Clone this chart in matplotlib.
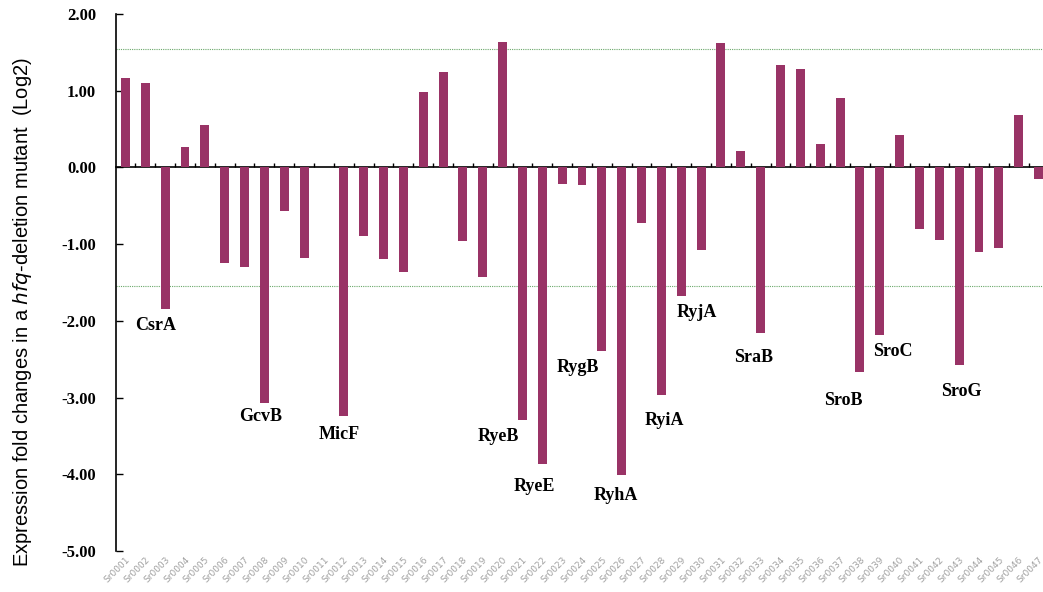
import matplotlib
matplotlib.use('Agg')
import matplotlib.pyplot as plt

# sRNA probes on the array, Sr0001 .. Sr0047
probes = ['Sr%04d' % i for i in range(1, 48)]

# log2 fold change in the hfq-deletion mutant (probe Sr0011 gave no value)
log2_fc = [1.16, 1.10, -1.85, 0.26, 0.55, -1.24, -1.30, -3.07, -0.57, -1.18,
           0.00, -3.24, -0.89, -1.19, -1.36, 0.98, 1.25, -0.96, -1.43, 1.63,
           -3.29, -3.86, -0.21, -0.23, -2.39, -4.01, -0.73, -2.96, -1.67, -1.07,
           1.62, 0.22, -2.16, 1.33, 1.28, 0.31, 0.90, -2.67, -2.19, 0.42,
           -0.80, -0.94, -2.58, -1.10, -1.05, 0.68, -0.15]

# known sRNAs among the probes (0-based probe index -> name)
srna_names = {2: 'CsrA', 7: 'GcvB', 11: 'MicF', 20: 'RyeB', 21: 'RyeE',
              24: 'RygB', 25: 'RyhA', 27: 'RyiA', 28: 'RyjA', 32: 'SraB',
              37: 'SroB', 38: 'SroC', 42: 'SroG'}

# cut-off for a 3-fold change
cutoff = 1.55

# where each name sits relative to the end of its bar (x, y in data units)
name_offsets = {2: (-0.49, -0.21), 7: (-0.17, -0.18), 11: (-0.25, -0.24),
                20: (-1.21, -0.22), 21: (-0.40, -0.30), 24: (-1.23, -0.22),
                25: (-0.31, -0.27), 27: (0.15, -0.34), 28: (0.77, -0.22),
                32: (-0.36, -0.32), 37: (-0.83, -0.37), 38: (0.64, -0.21),
                42: (0.12, -0.34)}

fig = plt.figure(figsize=(10.43, 5.92), dpi=100)
ax = fig.add_axes([115.5 / 1043, 41 / 592, 933 / 1043, 537 / 592])

x = list(range(len(probes)))
ax.bar(x, log2_fc, width=0.45, color='#993366', zorder=3)

for y in (cutoff, -cutoff):
    ax.axhline(y, color='#6aa86a', lw=0.8, ls=(0, (1, 1)), zorder=1)

for idx, name in srna_names.items():
    dx, dy = name_offsets[idx]
    ax.text(idx + dx, log2_fc[idx] + dy, name, ha='center', va='center',
            fontsize=13, fontweight='bold', family='Liberation Serif',
            color='black', zorder=4)

ax.set_xlim(-0.5, len(probes) - 0.5)
ax.set_ylim(-5, 2)

# category axis crosses at zero, ticks between categories
ax.spines['bottom'].set_position(('data', 0))
ax.spines['top'].set_visible(False)
ax.spines['right'].set_visible(False)
ax.spines['bottom'].set_linewidth(1.2)
ax.spines['left'].set_linewidth(1.2)
ax.set_xticks([i + 0.5 for i in range(len(probes))])
ax.tick_params(axis='x', direction='in', length=3, width=1, labelbottom=False)

ax.set_yticks(range(-5, 3))
ax.set_yticklabels(['%.2f' % v for v in range(-5, 3)],
                   fontsize=12, fontweight='bold', family='Liberation Serif')
ax.tick_params(axis='y', direction='in', length=5, width=1, pad=14)

# probe names along the bottom of the plot area
sec = ax.secondary_xaxis(0)
sec.spines['bottom'].set_visible(False)
sec.set_xticks(x, probes, rotation=45, ha='right', rotation_mode='anchor')
sec.tick_params(length=0, pad=3, labelsize=6.5, labelcolor='#a0a0a0')

ax.set_ylabel(r'Expression fold changes in a $\it{hfq}$-deletion mutant  (Log2)',
              fontsize=14.5, family='Liberation Sans', va='center')
ax.yaxis.set_label_coords(-0.1, 0.445)

fig.savefig('out.png', dpi=100)
